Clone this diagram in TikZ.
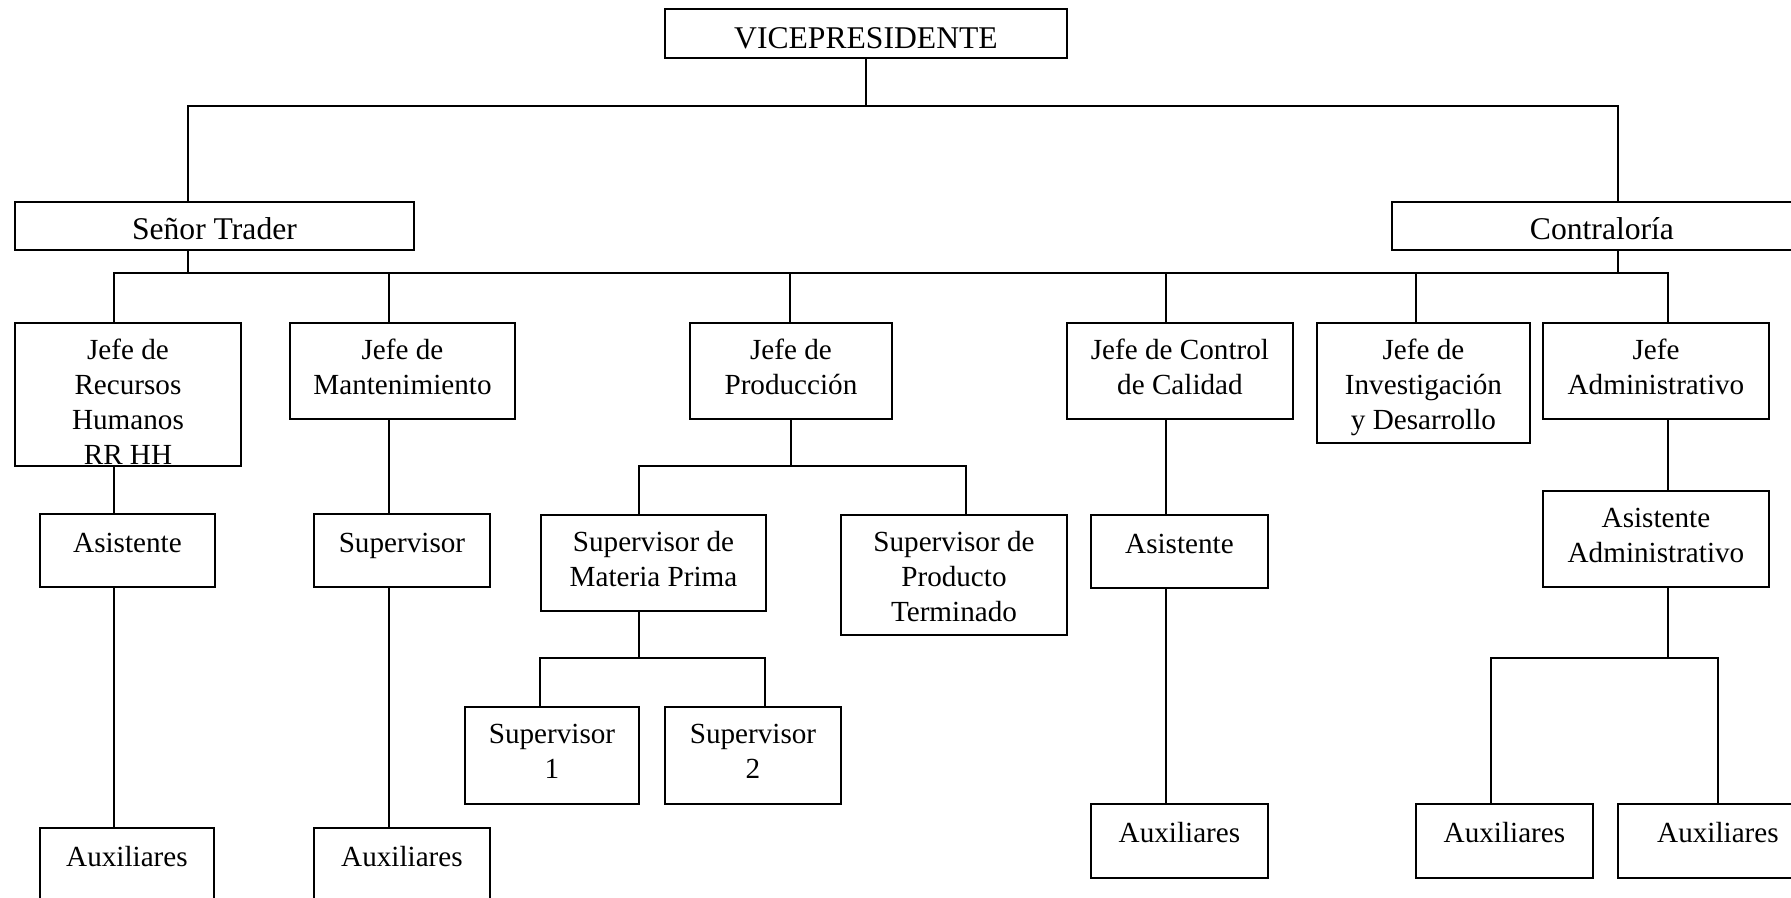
\documentclass[tikz,border=0pt]{standalone}
\usepackage{fontspec}
\setmainfont{Liberation Serif}
\usepackage{tikz}
\newlength{\pxu}
\setlength{\pxu}{0.02cm}
% box text: top aligned, first baseline #1 px below the top edge
\newcommand{\orgcell}[4][37]{\parbox[t][#3\pxu][t]{#2\pxu}{\centering\rule{0pt}{#1\pxu}#4}}
\tikzset{box/.style = {draw, anchor=north west, inner sep=0pt, line width=1.1pt,
    font=\fontsize{16.6}{19.9}\selectfont}}
\tikzset{head/.style = {box, font=\fontsize{18}{21}\selectfont}}
\tikzset{edge/.style = {line width=0.9pt}}

\begin{document}
\begin{tikzpicture}[x=\pxu, y=-\pxu]
        \useasboundingbox (0,0) rectangle (1791,897);
        \coordinate (bar1) at (0,106);
        \coordinate (bar2) at (0,273);
        \coordinate (bar3) at (0,466);
        \coordinate (bar4) at (0,658);
        % top levels
        \node[head] (vp) at (664,8) {\orgcell[40]{402}{49}{VICEPRESIDENTE}};
        \node[head] (trader) at (14,201) {\orgcell[38]{399}{48}{Señor Trader}};
        \node[head] (contra) at (1391,201) {\orgcell[38]{420}{48}{Contraloría}};
        \draw[edge] (vp.south) -- (bar1 -| vp.south);
        \draw[edge] (trader.north -| 188,0) |- (bar1 -| vp.south) -| (contra.north -| 1618,0);
        \draw[edge] (trader.south -| 188,0) -- (bar2 -| 188,0);
        \draw[edge] (contra.south -| 1618,0) -- (bar2 -| 1618,0);
        % jefes
        \node[box] (rrhh) at (14,322) {\orgcell{226}{143}{Jefe de\\Recursos\\Humanos\\RR HH}};
        \node[box] (mant) at (289,322) {\orgcell{225}{96}{Jefe de\\Mantenimiento}};
        \node[box] (prod) at (689,322) {\orgcell{202}{96}{Jefe de\\Producción}};
        \node[box] (cal) at (1066,322) {\orgcell{226}{96}{Jefe de Control\\de Calidad}};
        \node[box] (inv) at (1316,322) {\orgcell{213}{120}{Jefe de\\Investigación\\y Desarrollo}};
        \node[box] (adm) at (1542,322) {\orgcell{226}{96}{Jefe\\Administrativo}};
        \draw[edge] (rrhh.north -| 114,0) |- (bar2 -| 1668,0) -- (adm.north -| 1668,0);
        \foreach \n/\x in {mant/389, prod/790, cal/1166, inv/1416}
            \draw[edge] (\n.north -| \x,0) -- (bar2 -| \x,0);
        % recursos humanos
        \node[box] (asis1) at (39,513) {\orgcell[39]{175}{73}{Asistente}};
        \node[box] (aux1) at (39,827) {\orgcell[39]{174}{74}{Auxiliares}};
        \draw[edge] (rrhh.south -| 114,0) -- (asis1.north -| 114,0);
        \draw[edge] (asis1.south -| 114,0) -- (aux1.north -| 114,0);
        % mantenimiento
        \node[box] (sup) at (313,513) {\orgcell[39]{176}{73}{Supervisor}};
        \node[box] (aux2) at (313,827) {\orgcell[39]{176}{74}{Auxiliares}};
        \draw[edge] (mant.south -| 389,0) -- (sup.north -| 389,0);
        \draw[edge] (sup.south -| 389,0) -- (aux2.north -| 389,0);
        % produccion
        \node[box] (mp) at (540,514) {\orgcell{225}{96}{Supervisor de\\Materia Prima}};
        \node[box] (pt) at (840,514) {\orgcell{226}{120}{Supervisor de\\Producto\\Terminado}};
        \draw[edge] (prod.south) -- (bar3 -| prod.south);
        \draw[edge] (mp.north -| 639,0) |- (bar3 -| 966,0) -- (pt.north -| 966,0);
        \node[box] (sup1) at (464,706) {\orgcell{174}{97}{Supervisor\\1}};
        \node[box] (sup2) at (664,706) {\orgcell{176}{97}{Supervisor\\2}};
        \draw[edge] (mp.south -| 639,0) -- (bar4 -| 639,0);
        \draw[edge] (sup1.north -| 540,0) |- (bar4 -| 765,0) -- (sup2.north -| 765,0);
        % calidad
        \node[box] (asis2) at (1090,514) {\orgcell[39]{177}{73}{Asistente}};
        \node[box] (aux3) at (1090,803) {\orgcell[39]{177}{74}{Auxiliares}};
        \draw[edge] (cal.south -| 1166,0) -- (asis2.north -| 1166,0);
        \draw[edge] (asis2.south -| 1166,0) -- (aux3.north -| 1166,0);
        % administrativo
        \node[box] (asadm) at (1542,490) {\orgcell{226}{96}{Asistente\\Administrativo}};
        \node[box] (aux4) at (1415,803) {\orgcell[39]{177}{74}{Auxiliares}};
        \node[box] (aux5) at (1617,803) {\orgcell[39]{200}{74}{Auxiliares}};
        \draw[edge] (adm.south -| 1668,0) -- (asadm.north -| 1668,0);
        \draw[edge] (asadm.south -| 1668,0) -- (bar4 -| 1668,0);
        \draw[edge] (aux4.north -| 1491,0) |- (bar4 -| 1718,0) -- (aux5.north -| 1718,0);
    \end{tikzpicture}
\end{document}
